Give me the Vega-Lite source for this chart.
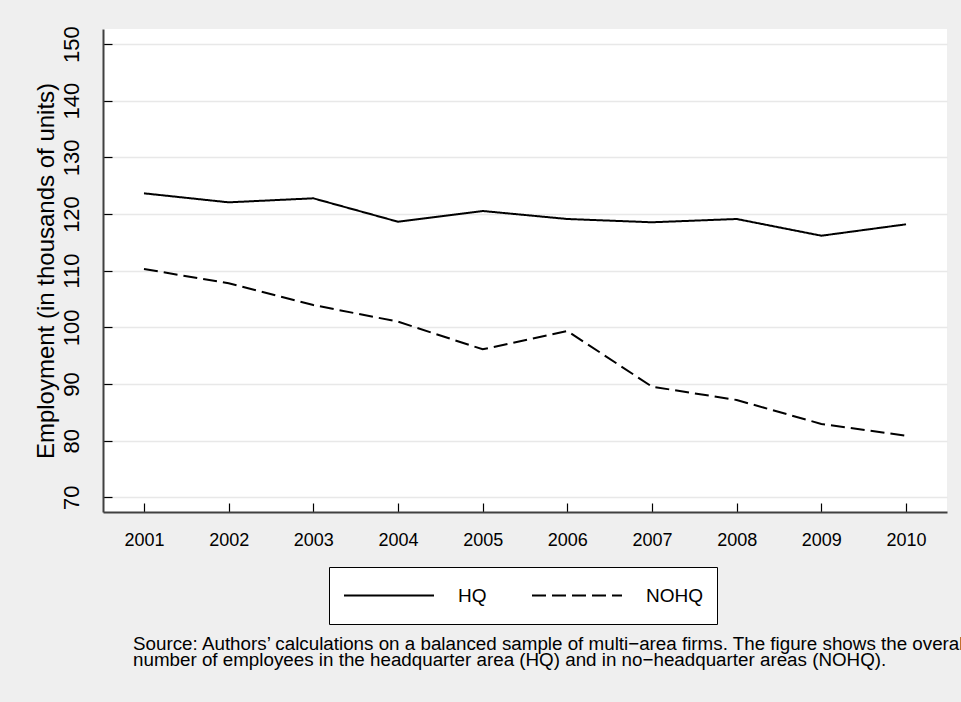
{
  "$schema": "https://vega.github.io/schema/vega-lite/v6.json",
  "autosize": {"type": "none"},
  "padding": {"left": 103, "top": 29, "right": 14, "bottom": 190},
  "width": 844,
  "height": 483,
  "background": "#efefef",
  "config": {
    "font": "Liberation Sans",
    "view": {"fill": "white", "stroke": null},
    "axis": {"labelColor": "black", "titleColor": "black", "titleFontWeight": "normal", "domainColor": "#404040", "domainWidth": 2, "tickColor": "black", "tickWidth": 1.2, "gridColor": "#e8e8e8", "gridWidth": 1.5}
  },
  "title": {
    "text": ["Source: Authors\u2019 calculations on a balanced sample of multi\u2212area firms. The figure shows the overall", "number of employees in the headquarter area (HQ) and in no\u2212headquarter areas (NOHQ)."],
    "orient": "bottom",
    "anchor": "start",
    "frame": "group",
    "dx": 30,
    "offset": 10,
    "fontSize": 18.8,
    "lineHeight": 16,
    "fontWeight": "normal",
    "color": "black",
    "font": "Liberation Sans"
  },
  "data": {
    "values": [
      {"year": 2001, "series": "HQ", "employment": 123.65},
      {"year": 2002, "series": "HQ", "employment": 122.06},
      {"year": 2003, "series": "HQ", "employment": 122.77},
      {"year": 2004, "series": "HQ", "employment": 118.64},
      {"year": 2005, "series": "HQ", "employment": 120.53},
      {"year": 2006, "series": "HQ", "employment": 119.12},
      {"year": 2007, "series": "HQ", "employment": 118.54},
      {"year": 2008, "series": "HQ", "employment": 119.12},
      {"year": 2009, "series": "HQ", "employment": 116.17},
      {"year": 2010, "series": "HQ", "employment": 118.18},
      {"year": 2001, "series": "NOHQ", "employment": 110.29},
      {"year": 2002, "series": "NOHQ", "employment": 107.77},
      {"year": 2003, "series": "NOHQ", "employment": 103.94},
      {"year": 2004, "series": "NOHQ", "employment": 101.0},
      {"year": 2005, "series": "NOHQ", "employment": 96.12},
      {"year": 2006, "series": "NOHQ", "employment": 99.35},
      {"year": 2007, "series": "NOHQ", "employment": 89.53},
      {"year": 2008, "series": "NOHQ", "employment": 87.18},
      {"year": 2009, "series": "NOHQ", "employment": 82.95},
      {"year": 2010, "series": "NOHQ", "employment": 80.88}
    ]
  },
  "mark": {"type": "line", "color": "black", "strokeWidth": 2},
  "encoding": {
    "x": {
      "field": "year", "type": "quantitative",
      "scale": {"domain": [2000.516, 2010.484], "nice": false, "zero": false},
      "axis": {"title": null, "values": [2001, 2002, 2003, 2004, 2005, 2006, 2007, 2008, 2009, 2010], "format": "d", "grid": false, "tickSize": -9, "labelPadding": 28, "labelFontSize": 18, "labelFlush": false}
    },
    "y": {
      "field": "employment", "type": "quantitative",
      "scale": {"domain": [67.41, 152.65], "nice": false, "zero": false},
      "axis": {"title": "Employment (in thousands of units)", "titleFontSize": 24, "values": [70, 80, 90, 100, 110, 120, 130, 140, 150], "grid": true, "tickSize": -9, "labelPadding": 29, "labelFontSize": 22, "labelAngle": -90, "labelAlign": "center", "labelBaseline": "bottom", "titlePadding": 2, "labelFlush": false}
    },
    "strokeDash": {
      "field": "series", "type": "nominal",
      "scale": {"domain": ["HQ", "NOHQ"], "range": [[1, 0], [14, 6]]},
      "legend": {
        "title": null, "orient": "none", "legendX": 226, "legendY": 538,
        "direction": "horizontal", "symbolType": "stroke", "symbolSize": 8100,
        "symbolStrokeColor": "black", "symbolStrokeWidth": 2,
        "labelFontSize": 19, "labelColor": "black", "labelOffset": 23, "columnPadding": 44,
        "clipHeight": 29,
        "padding": 14, "strokeColor": "black", "fillColor": "white"
      }
    }
  }
}
